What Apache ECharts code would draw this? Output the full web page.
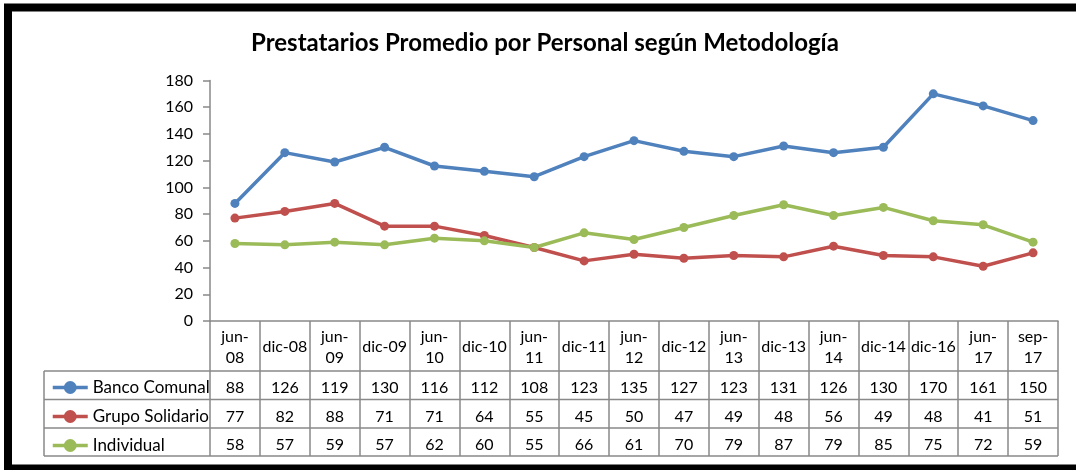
<!DOCTYPE html>
<html lang="es">
<head>
  <meta charset="UTF-8">
  <title>Prestatarios Promedio por Personal</title>
  <style>
    html, body { margin: 0; padding: 0; background: #fff; }
    #main { width: 1076px; height: 470px; }
  </style>
</head>
<body>
  <div id="main"></div>
</body>
<script src="https://cdn.jsdelivr.net/npm/echarts@6/dist/echarts.min.js"></script>
<script>
  const categories = ['jun-08', 'dic-08', 'jun-09', 'dic-09', 'jun-10', 'dic-10', 'jun-11', 'dic-11', 'jun-12',
    'dic-12', 'jun-13', 'dic-13', 'jun-14', 'dic-14', 'dic-16', 'jun-17', 'sep-17'];
  const seriesNames = ['Banco Comunal', 'Grupo Solidario', 'Individual'];
  const bancoComunal = [88, 126, 119, 130, 116, 112, 108, 123, 135, 127, 123, 131, 126, 130, 170, 161, 150];
  const grupoSolidario = [77, 82, 88, 71, 71, 64, 55, 45, 50, 47, 49, 48, 56, 49, 48, 41, 51];
  const individual = [58, 57, 59, 57, 62, 60, 55, 66, 61, 70, 79, 87, 79, 85, 75, 72, 59];
  const colors = ['#4F81BD', '#C0504D', '#9BBB59'];

  const values = [bancoComunal, grupoSolidario, individual];
  const font = 'Lato';

  // grid geometry (table sits under the plot)
  const gridLeft = 210, gridRight = 1058, gridTop = 80.5, axisY = 321;
  const rowLines = [371, 399.5, 428, 456];
  const tableLeft = 44;
  const gridColor = '#898989';

  let myChart = echarts.init(document.getElementById('main'));

  // extra x axes used only to print the table values under each category
  let rowOffsets = [67, 95.5, 124];
  let tableAxes = values.map(function (vals, i) {
    return {
      type: 'category',
      data: categories,
      position: 'bottom',
      offset: rowOffsets[i],
      axisLine: { show: false },
      axisTick: { show: false },
      axisLabel: {
        interval: 0,
        margin: 0,
        verticalAlign: 'middle',
        color: '#000',
        fontFamily: font,
        fontSize: 16,
        formatter: function (v, idx) { return String(vals[idx]); }
      }
    };
  });

  let lines = [];
  rowLines.forEach(function (y) {
    lines.push({ type: 'line', shape: { x1: tableLeft, y1: y, x2: gridRight, y2: y },
      style: { stroke: gridColor, lineWidth: 1.5 } });
  });
  lines.push({ type: 'line', shape: { x1: tableLeft, y1: rowLines[0], x2: tableLeft, y2: rowLines[3] },
    style: { stroke: gridColor, lineWidth: 1.5 } });
  // outer black frame
  lines.push({ type: 'rect', shape: { x: 8, y: 7.5, width: 1100, height: 461 },
    style: { fill: 'none', stroke: '#000', lineWidth: 8 } });

  myChart.setOption({
    animation: false,
    title: {
      text: 'Prestatarios Promedio por Personal según Metodología',
      left: 246,
      top: 26,
      textStyle: { fontFamily: font, fontWeight: 'bold', fontSize: 24, color: '#000' }
    },
    legend: {
      orient: 'vertical',
      left: 46,
      top: 374,
      itemWidth: 35,
      itemHeight: 16,
      itemGap: 12,
      lineStyle: { width: 3.5 },
      textStyle: { fontFamily: font, fontSize: 17, color: '#000', lineHeight: 16 },
      data: seriesNames
    },
    grid: { left: gridLeft, right: 1076 - gridRight, top: gridTop, bottom: 470 - axisY },
    xAxis: [{
      type: 'category',
      data: categories,
      boundaryGap: true,
      axisLine: { lineStyle: { color: gridColor, width: 1.5 } },
      axisTick: { show: true, interval: 0, length: rowLines[3] - axisY, lineStyle: { color: gridColor, width: 1.5 } },
      axisLabel: {
        interval: 0,
        margin: 26,
        verticalAlign: 'middle',
        lineHeight: 21,
        color: '#000',
        fontFamily: font,
        fontSize: 16,
        formatter: function (v) {
          return v.indexOf('dic') === 0 ? v : v.replace('-', '-\n');
        }
      }
    }].concat(tableAxes),
    yAxis: {
      type: 'value',
      min: 0,
      max: 180,
      interval: 20,
      axisLine: { show: true, lineStyle: { color: gridColor, width: 1.5 } },
      axisTick: { show: true, length: 7, lineStyle: { color: gridColor, width: 1.5 } },
      splitLine: { show: false },
      axisLabel: { margin: 17, color: '#000', fontFamily: font, fontSize: 16 }
    },
    graphic: lines,
    series: values.map(function (vals, i) {
      return {
        name: seriesNames[i],
        type: 'line',
        data: vals,
        xAxisIndex: 0,
        symbol: 'circle',
        symbolSize: 9,
        color: colors[i],
        lineStyle: { width: 3.5, color: colors[i] },
        itemStyle: { color: colors[i] }
      };
    })
  });
</script>
</html>
